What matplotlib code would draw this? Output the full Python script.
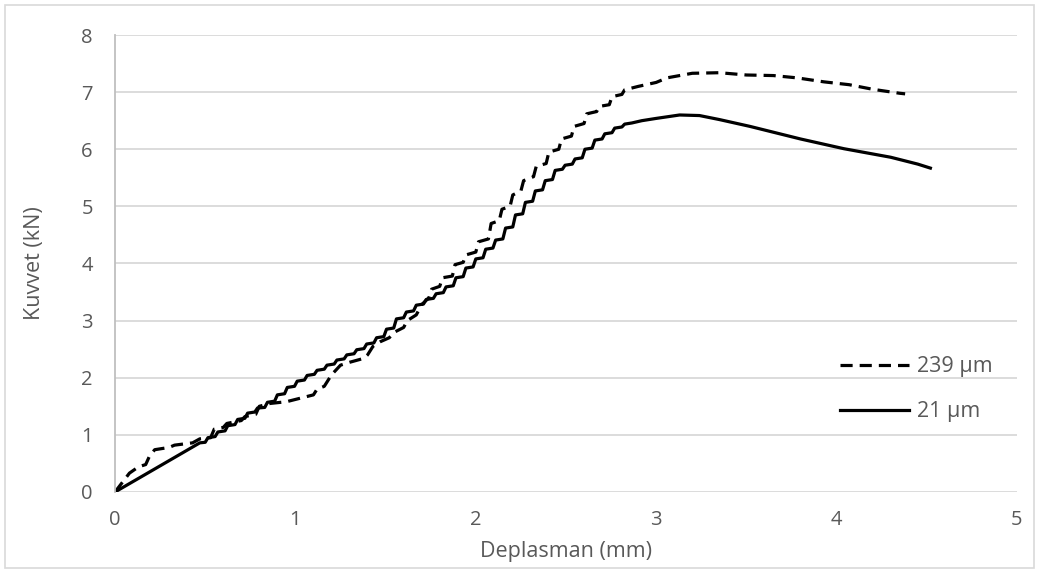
import matplotlib.pyplot as plt
from matplotlib.patches import Rectangle

# 21 um specimen (solid)
x_21 = [0.00, 0.47, 0.50, 0.515, 0.555, 0.57, 0.61, 0.625, 0.665, 0.68, 0.72, 0.735,
        0.775, 0.79, 0.83, 0.845, 0.885, 0.90, 0.94, 0.955, 0.995, 1.01, 1.05, 1.065,
        1.105, 1.12, 1.16, 1.175, 1.215, 1.23, 1.27, 1.285, 1.325, 1.34, 1.38, 1.395,
        1.435, 1.45, 1.49, 1.505, 1.545, 1.56, 1.60, 1.615, 1.655, 1.67, 1.71, 1.725,
        1.765, 1.78, 1.82, 1.835, 1.875, 1.89, 1.93, 1.945, 1.985, 2.00, 2.04, 2.055,
        2.095, 2.11, 2.15, 2.165, 2.205, 2.22, 2.26, 2.275, 2.315, 2.33, 2.37, 2.385,
        2.425, 2.44, 2.48, 2.495, 2.535, 2.55, 2.59, 2.605, 2.645, 2.66, 2.70, 2.715,
        2.755, 2.77, 2.81, 2.825, 2.865, 2.92, 3.00, 3.13, 3.24, 3.35, 3.52, 3.80,
        4.04, 4.30, 4.45, 4.52]
y_21 = [0.00, 0.86, 0.87, 0.95, 0.97, 1.05, 1.07, 1.16, 1.18, 1.27, 1.29, 1.38,
        1.40, 1.47, 1.48, 1.57, 1.59, 1.70, 1.72, 1.83, 1.85, 1.94, 1.96, 2.04,
        2.06, 2.13, 2.15, 2.22, 2.24, 2.31, 2.33, 2.40, 2.42, 2.49, 2.51, 2.59,
        2.61, 2.70, 2.72, 2.85, 2.87, 3.03, 3.05, 3.15, 3.17, 3.27, 3.29, 3.37,
        3.39, 3.47, 3.49, 3.59, 3.61, 3.75, 3.77, 3.92, 3.94, 4.08, 4.10, 4.25,
        4.27, 4.41, 4.43, 4.62, 4.64, 4.85, 4.87, 5.07, 5.09, 5.27, 5.29, 5.45,
        5.47, 5.63, 5.65, 5.72, 5.74, 5.83, 5.85, 6.00, 6.02, 6.16, 6.18, 6.27,
        6.29, 6.37, 6.39, 6.44, 6.46, 6.50, 6.54, 6.60, 6.59, 6.52, 6.40, 6.18,
        6.01, 5.86, 5.74, 5.67]

# 239 um specimen (dashed)
x_239 = [0.00, 0.08, 0.13, 0.17, 0.19, 0.22, 0.30, 0.33, 0.43, 0.47, 0.53, 0.55,
         0.60, 0.62, 0.70, 0.72, 0.78, 0.80, 0.86, 0.95, 1.05, 1.10, 1.12, 1.16,
         1.20, 1.25, 1.30, 1.38, 1.40, 1.43, 1.47, 1.52, 1.55, 1.60, 1.62, 1.67,
         1.70, 1.74, 1.755, 1.80, 1.815, 1.87, 1.885, 1.93, 1.945, 2.00, 2.015,
         2.07, 2.085, 2.13, 2.145, 2.19, 2.205, 2.25, 2.265, 2.32, 2.335, 2.39,
         2.405, 2.46, 2.475, 2.53, 2.545, 2.60, 2.615, 2.67, 2.685, 2.74, 2.755,
         2.81, 2.825, 2.90, 3.00, 3.06, 3.20, 3.35, 3.50, 3.65, 3.78, 3.93, 4.07,
         4.20, 4.35, 4.38]
y_239 = [0.00, 0.33, 0.44, 0.48, 0.62, 0.74, 0.78, 0.82, 0.86, 0.93, 0.95, 1.10,
         1.13, 1.20, 1.25, 1.32, 1.36, 1.50, 1.55, 1.58, 1.66, 1.70, 1.80, 1.85,
         2.05, 2.22, 2.27, 2.34, 2.40, 2.55, 2.63, 2.70, 2.80, 2.88, 3.00, 3.10,
         3.28, 3.40, 3.55, 3.60, 3.75, 3.78, 3.98, 4.02, 4.15, 4.20, 4.38,
         4.43, 4.70, 4.75, 4.95, 5.00, 5.20, 5.27, 5.45, 5.52, 5.70, 5.75,
         5.95, 6.00, 6.18, 6.23, 6.40, 6.45, 6.62, 6.66, 6.75, 6.78, 6.92,
         6.96, 7.04, 7.10, 7.17, 7.25, 7.33, 7.34, 7.30, 7.29, 7.25, 7.18, 7.13,
         7.05, 6.98, 6.97]

x_ticks = [0, 1, 2, 3, 4, 5]
y_ticks = [0, 1, 2, 3, 4, 5, 6, 7, 8]

txt = '#595959'
plt.rcParams['font.family'] = ['Open Sans', 'DejaVu Sans']

fig = plt.figure(figsize=(10.39, 5.73), dpi=100)
ax = fig.add_axes([0.1107, 0.1414, 0.8681, 0.7975])

ax.plot(x_239, y_239, color='black', lw=2.3, dashes=(3.8, 2.2), label='239 µm')
ax.plot(x_21, y_21, color='black', lw=2.3, label='21 µm')

ax.set_xlim(0, 5)
ax.set_ylim(0, 8)
ax.set_xticks(x_ticks)
ax.set_yticks(y_ticks)
ax.grid(axis='y', color='#d9d9d9', lw=1.3)
ax.set_axisbelow(True)
for s in ['top', 'right', 'bottom']:
    ax.spines[s].set_visible(False)
ax.spines['left'].set_color('#bfbfbf')
ax.spines['left'].set_linewidth(1.3)
ax.tick_params(length=0, labelsize=14.5, labelcolor=txt)
ax.tick_params(axis='y', pad=16)
ax.tick_params(axis='x', pad=13)

ax.set_xlabel('Deplasman (mm)', fontsize=15.5, color=txt, labelpad=8)
ax.set_ylabel('Kuvvet (kN)', fontsize=15.5, color=txt, labelpad=26)

leg = ax.legend(loc='upper left', bbox_to_anchor=(0.804, 0.297), frameon=False,
                fontsize=15.5, handlelength=3.2, handletextpad=0.35,
                labelspacing=1.12, borderpad=0, borderaxespad=0)
for t in leg.get_texts():
    t.set_color(txt)

fig.patches.append(Rectangle((0.005, 0.008), 0.99, 0.984, transform=fig.transFigure,
                             fill=False, edgecolor='#d9d9d9', lw=1.2))

fig.savefig('out.png', dpi=100)
